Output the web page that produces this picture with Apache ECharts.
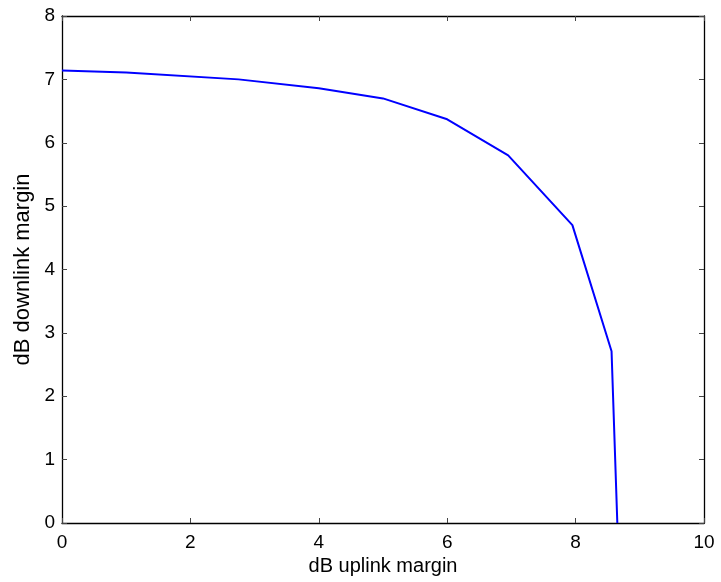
<!DOCTYPE html>
<html>
<head>
<meta charset="utf-8">
<script src="https://cdn.jsdelivr.net/npm/echarts@6/dist/echarts.min.js"></script>
<style>
html,body{margin:0;padding:0;background:#fff;}
#c{width:721px;height:582px;}
</style>
</head>
<body>
<div id="c"></div>
<script>
const uplinkMargin = [0, 1, 2.75, 4, 5, 6, 6.95, 7.95, 8.56, 8.65];
const downlinkMargin = [7.14, 7.11, 7.0, 6.86, 6.70, 6.37, 5.80, 4.70, 2.71, 0];
const xTitle = 'dB uplink margin';
const yTitle = 'dB downlink margin';

const font = 'Liberation Sans, Arial, Helvetica, sans-serif';
const chart = echarts.init(document.getElementById('c'), null, {renderer: 'canvas'});
const tickStyle = {show: true, inside: true, length: 5, lineStyle: {color: '#444', width: 1}};
const lineStyle = {color: '#000', width: 1.3};
chart.setOption({
  animation: false,
  backgroundColor: '#fff',
  grid: {left: 62, right: 17, top: 16, bottom: 59, containLabel: false},
  xAxis: [{
    type: 'value', min: 0, max: 10, interval: 2, position: 'bottom',
    name: xTitle, nameLocation: 'middle', nameGap: 32,
    nameTextStyle: {color: '#000', fontSize: 20, fontFamily: font},
    axisLine: {show: true, onZero: false, lineStyle: lineStyle},
    axisTick: tickStyle,
    axisLabel: {color: '#000', fontSize: 19, fontFamily: font, margin: 10},
    splitLine: {show: false}
  }, {
    type: 'value', min: 0, max: 10, interval: 2, position: 'top',
    axisLine: {show: true, onZero: false, lineStyle: lineStyle},
    axisTick: tickStyle, axisLabel: {show: false}, splitLine: {show: false}
  }],
  yAxis: [{
    type: 'value', min: 0, max: 8, interval: 1, position: 'left',
    name: yTitle, nameLocation: 'middle', nameGap: 24,
    nameTextStyle: {color: '#000', fontSize: 22, fontFamily: font},
    axisLine: {show: true, onZero: false, lineStyle: lineStyle},
    axisTick: tickStyle,
    axisLabel: {color: '#000', fontSize: 19, fontFamily: font, margin: 7},
    splitLine: {show: false}
  }, {
    type: 'value', min: 0, max: 8, interval: 1, position: 'right',
    axisLine: {show: true, onZero: false, lineStyle: lineStyle},
    axisTick: tickStyle, axisLabel: {show: false}, splitLine: {show: false}
  }],
  series: [{
    type: 'line',
    data: uplinkMargin.map((x, i) => [x, downlinkMargin[i]]),
    showSymbol: false,
    symbol: 'none',
    lineStyle: {color: '#0000ff', width: 2},
    itemStyle: {color: '#0000ff'},
    clip: true
  }]
});
</script>
</body>
</html>
